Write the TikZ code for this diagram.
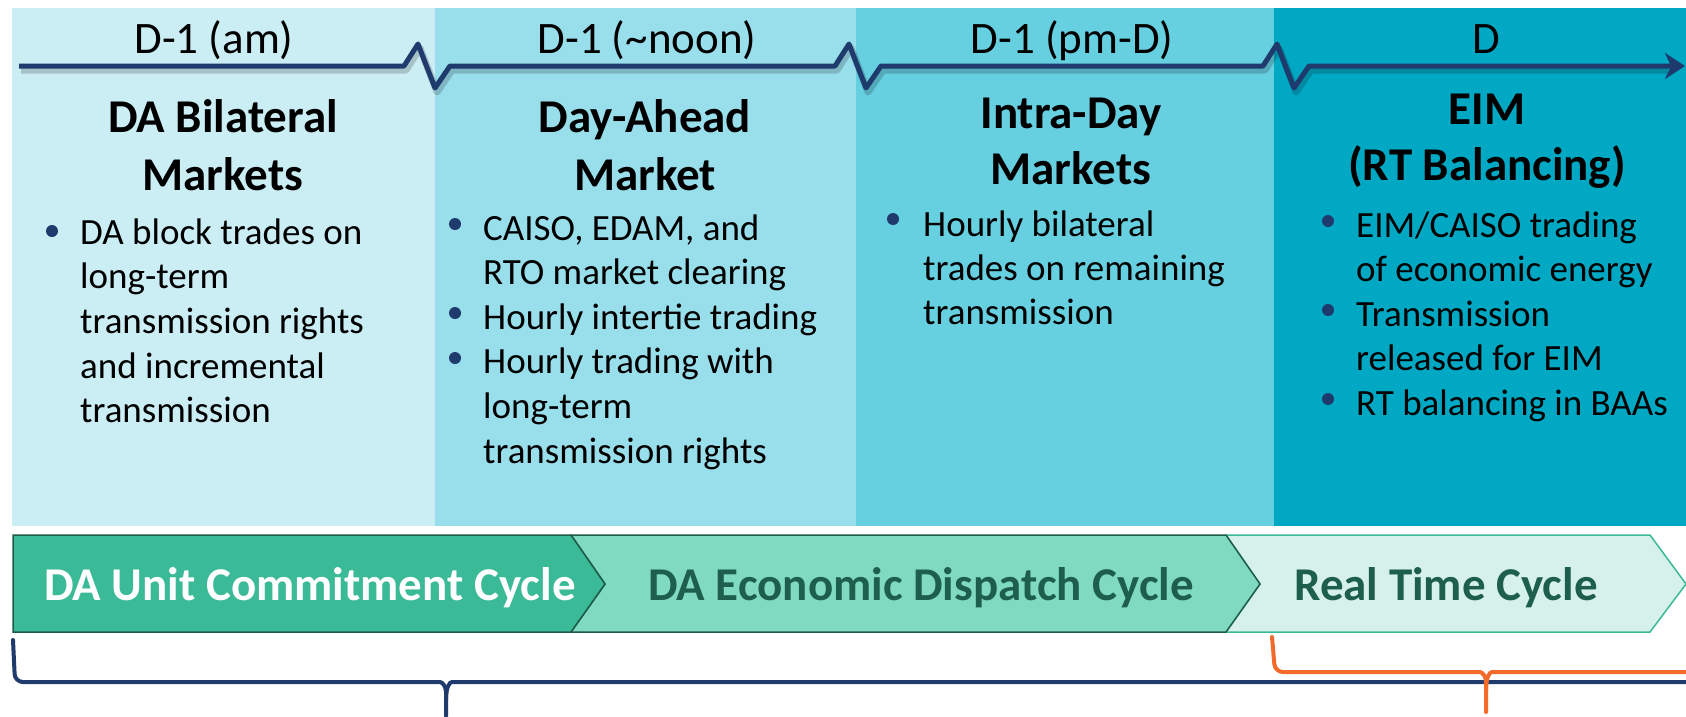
\documentclass[tikz,border=0pt]{standalone}
\usepackage{fontspec}
\setmainfont{Carlito}
\usetikzlibrary{arrows.meta}

\definecolor{paneA}{RGB}{203,237,244}
\definecolor{paneB}{RGB}{153,222,235}
\definecolor{paneC}{RGB}{102,207,224}
\definecolor{paneD}{RGB}{0,168,196}
\definecolor{navy}{RGB}{31,58,108}
\definecolor{cycA}{RGB}{59,186,151}
\definecolor{cycB}{RGB}{128,218,193}
\definecolor{cycC}{RGB}{214,241,234}
\definecolor{cycline}{RGB}{30,92,74}
\definecolor{cyctext}{RGB}{29,94,76}
\definecolor{rtorange}{RGB}{242,107,42}

\tikzset{
  timelbl/.style={anchor=base, inner sep=0pt, font=\fontsize{45}{54}\selectfont},
  coltitle/.style={anchor=base, inner sep=0pt, font=\bfseries\fontsize{47}{56}\selectfont},
  bultext/.style={anchor=base west, inner sep=0pt, font=\fontsize{37}{44}\selectfont},
  cyctitle/.style={anchor=base, inner sep=0pt, font=\bfseries\fontsize{47}{56}\selectfont},
  bracepath/.style={line width=4pt, line cap=round, rounded corners=8pt},
}

\newcommand{\bulletdot}[2]{\fill[navy] (#1,#2) circle (6pt);}

\begin{document}
\begin{tikzpicture}[x=1pt, y=-1pt]
  \useasboundingbox (0,0) rectangle (1686,716);
  \fill[white] (0,0) rectangle (1686,716);

  % market panels
  \fill[paneA] (12,8) rectangle (435,526);
  \fill[paneB] (435,8) rectangle (856,526);
  \fill[paneC] (856,8) rectangle (1274,526);
  \fill[paneD] (1274,8) rectangle (1686,526);

  % time line with breaks
  \draw[black, opacity=.18, line width=7pt, line join=round, shift={(2,4)}]
    (19,66) -- (404,66) -- (418,44) -- (435,88) -- (450,66) -- (835,66) -- (849,44) -- (866,88)
    -- (881,66) -- (1263,66) -- (1277,44) -- (1294,88) -- (1309,66) -- (1666,66);
  \draw[navy, line width=5pt, line join=round, -{Stealth[length=20pt,width=26pt,inset=6pt]}]
    (19,66) -- (404,66) -- (418,44) -- (435,88) -- (450,66) -- (835,66) -- (849,44) -- (866,88)
    -- (881,66) -- (1263,66) -- (1277,44) -- (1294,88) -- (1309,66) -- (1685,66);

  \node[timelbl] (t1) at (214,53) {D-1 (am)};
  \node[timelbl] (t2) at (647,53) {D-1 (\textasciitilde noon)};
  \node[timelbl] (t3) at (1072,53) {D-1 (pm-D)};
  \node[timelbl] (t4) at (1486,53) {D};

  % titles
  \node[coltitle] (h1a) at (223,132) {DA Bilateral};
  \node[coltitle] (h1b) at (223,190) {Markets};
  \node[coltitle] (h2a) at (645,132) {Day-Ahead};
  \node[coltitle] (h2b) at (645,190) {Market};
  \node[coltitle] (h3a) at (1071,128) {Intra-Day};
  \node[coltitle] (h3b) at (1071,184) {Markets};
  \node[coltitle] (h4a) at (1487,124) {EIM};
  \node[coltitle] (h4b) at (1487,180) {(RT Balancing)};

  % bullet lists
  \foreach \txt [count=\i from 0] in {DA block trades on, long-term, transmission rights, and incremental, transmission}
    \node[bultext] (a\i) at (80,{244+44.7*\i}) {\txt};
  \bulletdot{52}{231}

  \foreach \txt [count=\i from 0] in {{CAISO, EDAM, and}, RTO market clearing, Hourly intertie trading, Hourly trading with, long-term, transmission rights}
    \node[bultext] (b\i) at (483,{240+44.6*\i}) {\txt};
  \bulletdot{455}{224}
  \bulletdot{455}{313}
  \bulletdot{455}{358}

  \foreach \txt [count=\i from 0] in {Hourly bilateral, trades on remaining, transmission}
    \node[bultext] (c\i) at (923,{236+44.2*\i}) {\txt};
  \bulletdot{893}{219}

  \foreach \txt [count=\i from 0] in {EIM/CAISO trading, of economic energy, Transmission, released for EIM, RT balancing in BAAs}
    \node[bultext] (d\i) at (1356,{237+44.5*\i}) {\txt};
  \bulletdot{1328}{221}
  \bulletdot{1328}{310}
  \bulletdot{1328}{399}

  % cycles
  \filldraw[fill=cycC, draw=cycA, line width=1.5pt]
    (1226,535) -- (1650,535) -- (1686,584) -- (1650,632) -- (1226,632) -- (1260,584) -- cycle;
  \filldraw[fill=cycB, draw=cycline, line width=1.5pt]
    (571,535) -- (1226,535) -- (1260,584) -- (1226,632) -- (571,632) -- (605,584) -- cycle;
  \filldraw[fill=cycA, draw=cycline, line width=1.5pt]
    (13,535) -- (571,535) -- (605,584) -- (571,632) -- (13,632) -- cycle;

  \node[cyctitle, white] (cyc1) at (310,600) {DA Unit Commitment Cycle};
  \node[cyctitle, cyctext] (cyc2) at (921,600) {DA Economic Dispatch Cycle};
  \node[cyctitle, cyctext] (cyc3) at (1446,600) {Real Time Cycle};

  % braces
  \coordinate (navytip) at (446,716);
  \coordinate (rttip) at (1486,712);
  \draw[navy, bracepath] (13,640) -- (15,682) -- (432,682)
    .. controls (442,682) and (446,686) .. (446,700) -- (navytip);
  \draw[navy, bracepath] (446,700) .. controls (446,686) and (450,682) .. (460,682) -- (1700,682);
  \draw[rtorange, bracepath] (1272,637) -- (1275,672) -- (1472,672)
    .. controls (1482,672) and (1486,676) .. (1486,690) -- (rttip);
  \draw[rtorange, bracepath] (1486,690) .. controls (1486,676) and (1490,672) .. (1500,672) -- (1700,672);
\end{tikzpicture}
\end{document}
